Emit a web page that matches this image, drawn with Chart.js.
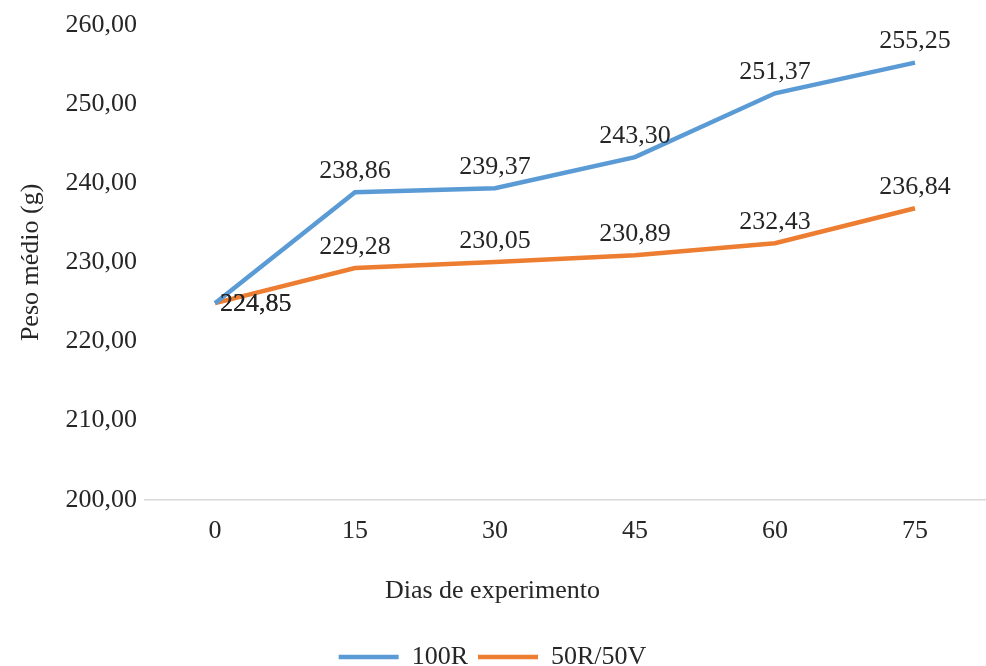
<!DOCTYPE html>
<html>
<head>
<meta charset="utf-8">
<script src="https://cdn.jsdelivr.net/npm/chart.js@4"></script>
<style>
  html, body { margin: 0; padding: 0; background: #fff; overflow: hidden; }
  #wrap { width: 986px; height: 680px; position: relative; }
</style>
</head>
<body>
<div id="wrap"><canvas id="pesoChart"></canvas></div>
<script>
// chart values
const dias = ["0", "15", "30", "45", "60", "75"];
const serie100R = [224.85, 238.86, 239.37, 243.30, 251.37, 255.25];
const serie50R50V = [224.85, 229.28, 230.05, 230.89, 232.43, 236.84];
const yTicks = [200, 210, 220, 230, 240, 250, 260];

const fontFamily = "'Liberation Serif', 'Times New Roman', serif";
const textColor = "#262626";

// numbers with comma as decimal separator
function fmt(v) {
  return Number(v).toFixed(2).replace(".", ",");
}

// draws the value next to every point
const valueLabels = {
  id: "valueLabels",
  afterDatasetsDraw(chart) {
    const ctx = chart.ctx;
    ctx.save();
    ctx.font = "26px " + fontFamily;
    ctx.fillStyle = textColor;
    ctx.textBaseline = "middle";
    chart.data.datasets.forEach((ds, i) => {
      chart.getDatasetMeta(i).data.forEach((pt, j) => {
        const txt = fmt(ds.data[j]);
        if (j === 0) {
          ctx.textAlign = "left";
          ctx.fillText(txt, pt.x + 5, pt.y + 1);
        } else {
          ctx.textAlign = "center";
          ctx.fillText(txt, pt.x, pt.y - 21);
        }
      });
    });
    ctx.restore();
  }
};

Chart.defaults.font.family = fontFamily;
Chart.defaults.font.size = 26;
Chart.defaults.color = textColor;

const ctx = document.getElementById("pesoChart").getContext("2d");
new Chart(ctx, {
  type: "line",
  data: {
    labels: dias,
    datasets: [
      {
        label: "100R",
        data: serie100R,
        borderColor: "#5B9BD5",
        backgroundColor: "#5B9BD5",
        borderWidth: 4.5,
        pointRadius: 0,
        tension: 0
      },
      {
        label: "50R/50V",
        data: serie50R50V,
        borderColor: "#ED7D31",
        backgroundColor: "#ED7D31",
        borderWidth: 4.5,
        pointRadius: 0,
        tension: 0
      }
    ]
  },
  options: {
    responsive: true,
    maintainAspectRatio: false,
    animation: false,
    layout: { padding: { top: 25, right: 1, left: 0, bottom: 0 } },
    scales: {
      x: {
        offset: true,
        grid: { display: false, drawTicks: false },
        border: { display: true, color: "#d9d9d9", width: 1.5 },
        ticks: { padding: 16, color: textColor },
        afterFit: (scale) => { scale.height = 50; }
      },
      y: {
        min: 200,
        max: 260,
        afterBuildTicks: (scale) => {
          scale.ticks = yTicks.map(v => ({ value: v }));
        },
        grid: { display: false, drawTicks: false },
        border: { display: false },
        ticks: {
          padding: 8,
          color: textColor,
          callback: (v) => fmt(v)
        },
        title: {
          display: true,
          text: "Peso médio (g)",
          color: textColor,
          font: { size: 26 },
          padding: { top: 16, bottom: 0 }
        },
        afterFit: (scale) => { scale.width = 145; }
      }
    },
    plugins: {
      legend: {
        position: "bottom",
        weight: 2000,
        labels: {
          usePointStyle: true,
          pointStyle: "line",
          pointStyleWidth: 60,
          padding: 10,
          color: textColor,
          font: { size: 26 }
        }
      },
      subtitle: {
        display: true,
        position: "bottom",
        weight: 500,
        text: "Dias de experimento",
        color: textColor,
        font: { size: 26, weight: "normal" },
        padding: { top: 26, bottom: 27 }
      },
      tooltip: { enabled: false }
    }
  },
  plugins: [valueLabels]
});
</script>
</body>
</html>
